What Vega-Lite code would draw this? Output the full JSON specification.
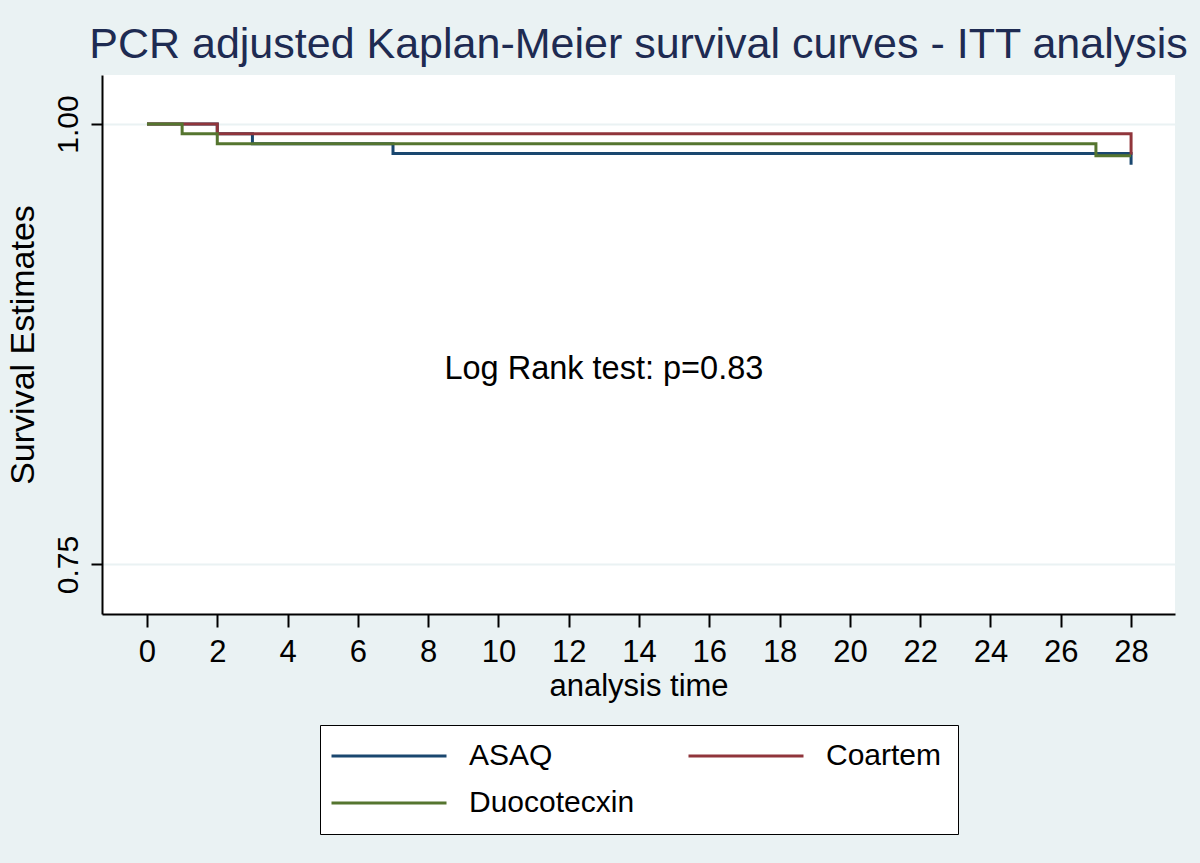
{
  "$schema": "https://vega.github.io/schema/vega-lite/v6.json",
  "width": 1073,
  "height": 539,
  "autosize": {"type": "none"},
  "padding": {"left": 102, "top": 75, "right": 25, "bottom": 249},
  "background": "#EAF2F3",
  "view": {"fill": "white", "stroke": null},
  "config": {
    "font": "Liberation Sans",
    "axis": {"domainColor": "#000000", "domainWidth": 2, "tickColor": "#000000", "tickWidth": 2, "labelColor": "#000000", "titleColor": "#000000", "titleFontWeight": "normal", "labelFont": "Liberation Sans", "titleFont": "Liberation Sans"}
  },
  "title": {
    "text": "PCR adjusted Kaplan-Meier survival curves - ITT analysis",
    "fontSize": 43,
    "fontWeight": "normal",
    "color": "#1E2B52",
    "anchor": "middle",
    "offset": 8,
    "font": "Liberation Sans"
  },
  "layer": [
    {
      "data": {
        "values": [
          {"group": "ASAQ", "t": 0, "s": 1.0},
          {"group": "ASAQ", "t": 2, "s": 0.9945},
          {"group": "ASAQ", "t": 3, "s": 0.9888},
          {"group": "ASAQ", "t": 7, "s": 0.9833},
          {"group": "ASAQ", "t": 28, "s": 0.9769},
          {"group": "Coartem", "t": 0, "s": 1.0},
          {"group": "Coartem", "t": 2, "s": 0.9945},
          {"group": "Coartem", "t": 28, "s": 0.9826},
          {"group": "Duocotecxin", "t": 0, "s": 1.0},
          {"group": "Duocotecxin", "t": 1, "s": 0.9945},
          {"group": "Duocotecxin", "t": 2, "s": 0.9888},
          {"group": "Duocotecxin", "t": 27, "s": 0.982},
          {"group": "Duocotecxin", "t": 28, "s": 0.982}
        ]
      },
      "mark": {"type": "line", "interpolate": "step-after", "strokeWidth": 3},
      "encoding": {
        "x": {
          "field": "t", "type": "quantitative",
          "scale": {"domain": [-1.28, 29.25], "nice": false, "zero": false},
          "axis": {
            "values": [0, 2, 4, 6, 8, 10, 12, 14, 16, 18, 20, 22, 24, 26, 28],
            "title": "analysis time",
            "grid": false,
            "tickSize": 13,
            "labelFontSize": 31,
            "labelBaseline": "alphabetic",
            "labelPadding": 34,
            "titleFontSize": 31,
            "titleBaseline": "alphabetic",
            "titleY": 81
          }
        },
        "y": {
          "field": "s", "type": "quantitative",
          "scale": {"domain": [0.7219, 1.0278], "nice": false, "zero": false},
          "axis": {
            "values": [0.75, 1.0],
            "format": ".2f",
            "title": "Survival Estimates",
            "grid": true,
            "gridColor": "#EAF2F3",
            "gridWidth": 2,
            "tickSize": 11,
            "labelAngle": -90,
            "labelAlign": "center",
            "labelBaseline": "alphabetic",
            "labelPadding": 14,
            "labelFontSize": 30,
            "titleFontSize": 34,
            "titleBaseline": "alphabetic",
            "titleX": -69
          }
        },
        "color": {
          "field": "group", "type": "nominal",
          "scale": {"domain": ["ASAQ", "Coartem", "Duocotecxin"], "range": ["#1A476F", "#90353B", "#55752F"]},
          "legend": {
            "title": null,
            "orient": "none",
            "direction": "horizontal",
            "legendX": 218,
            "legendY": 650,
            "columns": 2,
            "columnPadding": 47,
            "rowPadding": 17,
            "padding": 16,
            "fillColor": "white",
            "strokeColor": "#000000",
            "symbolType": "M-3.9,0L19.1,0",
            "symbolSize": 100,
            "symbolStrokeWidth": 3,
            "labelOffset": 103,
            "labelFontSize": 30,
            "labelColor": "#000000",
            "labelLimit": 400,
            "labelFont": "Liberation Sans"
          }
        }
      }
    },
    {
      "data": {"values": [{"x": 13, "y": 0.855, "label": "Log Rank test: p=0.83"}]},
      "mark": {"type": "text", "fontSize": 32.5, "font": "Liberation Sans", "color": "#000000", "align": "center", "baseline": "alphabetic"},
      "encoding": {
        "x": {"field": "x", "type": "quantitative"},
        "y": {"field": "y", "type": "quantitative"},
        "text": {"field": "label"}
      }
    }
  ]
}
